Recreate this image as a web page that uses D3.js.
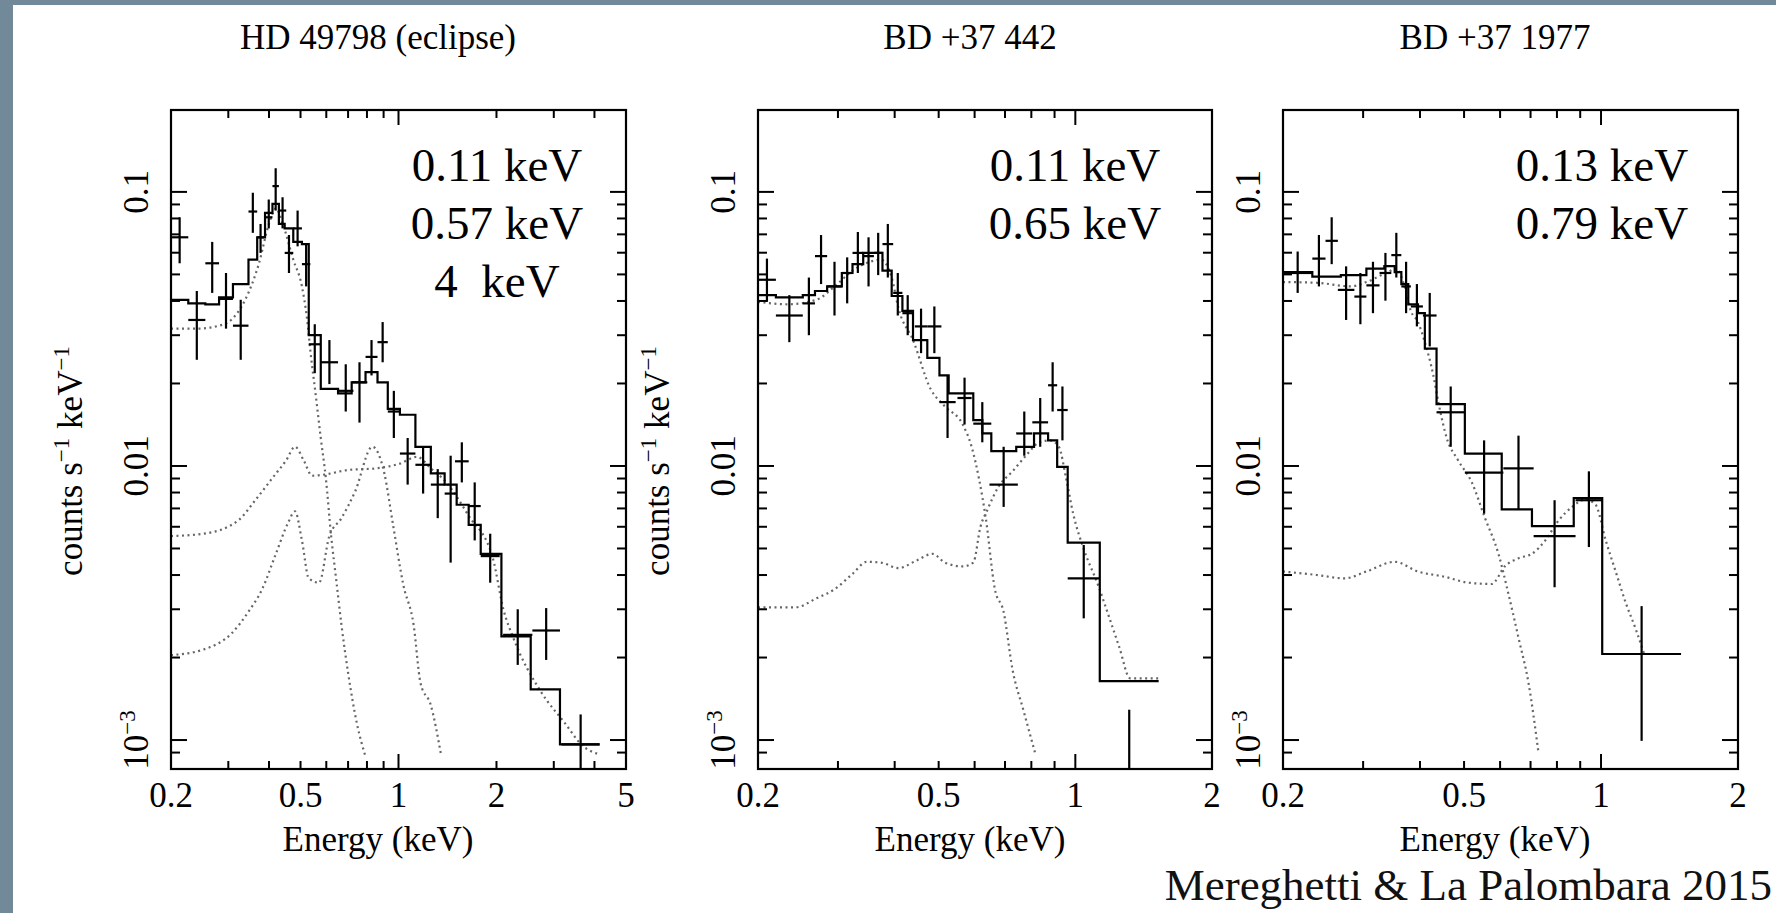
<!DOCTYPE html>
<html><head><meta charset="utf-8">
<script src="https://cdn.jsdelivr.net/npm/d3@7"></script>
<style>body{margin:0;background:#72899a;}svg{display:block}</style>
</head><body>
<svg id="c" width="1776" height="913"></svg>
<script>
// ---------------- DATA ----------------
const titles = ["HD 49798 (eclipse)", "BD +37 442", "BD +37 1977"];
const xAxisTitle = "Energy (keV)";
const credit = "Mereghetti & La Palombara 2015";
const p1Notes = ["0.11 keV", "0.57 keV", "4  keV"];
const p2Notes = ["0.11 keV", "0.65 keV"];
const p3Notes = ["0.13 keV", "0.79 keV"];
const p1XTickLabels = [0.2, 0.5, 1, 2, 5];
const p23XTickLabels = [0.2, 0.5, 1, 2];
const yTickLabels = [[0.1, "0.1"], [0.01, "0.01"], [0.001, "10", "\u22123"]];
const yDomain = [7.84e-4, 0.199];
const p1XDomain = [0.2, 5];
const p23XDomain = [0.2, 2];

// data bins: [E_lo, E_hi, rate, rate_lo, rate_hi]
const p1Bins = [
 [0.200,0.226,0.0683,0.0549,0.0808],[0.226,0.255,0.0341,0.0244,0.0435],
 [0.255,0.281,0.0549,0.0428,0.0657],[0.281,0.310,0.0407,0.0317,0.0506],
 [0.310,0.346,0.0325,0.0244,0.0404],[0.346,0.368,0.0848,0.0709,0.0993],
 [0.368,0.386,0.0683,0.0599,0.0764],[0.389,0.410,0.0808,0.0736,0.0938],
 [0.410,0.429,0.105,0.0855,0.122],[0.429,0.452,0.0855,0.0736,0.0956],
 [0.447,0.475,0.0599,0.0506,0.0696],[0.475,0.505,0.0736,0.0633,0.0855],
 [0.505,0.536,0.0545,0.0452,0.0645],[0.530,0.577,0.0278,0.0218,0.0329],
 [0.577,0.652,0.0239,0.0199,0.0288],[0.652,0.727,0.0188,0.0158,0.0235],
 [0.718,0.802,0.0202,0.0144,0.0239],[0.792,0.862,0.0250,0.0214,0.0288],
 [0.862,0.927,0.0283,0.0239,0.0335],[0.927,1.01,0.0158,0.01265,0.0188],
 [1.01,1.127,0.0111,0.00855,0.01265],[1.127,1.257,0.0101,0.00793,0.01175],
 [1.257,1.386,0.00855,0.00645,0.00974],[1.386,1.509,0.00793,0.00444,0.0109],
 [1.491,1.643,0.0104,0.00871,0.0122],[1.643,1.789,0.00714,0.00535,0.00871],
 [1.789,2.046,0.00469,0.00375,0.00566],[2.096,2.578,0.00242,0.00188,0.0030],
 [2.578,3.134,0.00251,0.00196,0.00303],[3.172,4.148,0.000964,0.000657,0.00124]
];
const p1StepEdges = [0.200,0.226,0.255,0.281,0.310,0.346,0.368,0.389,0.410,0.429,0.447,0.475,0.505,0.530,0.577,0.652,0.718,0.792,0.862,0.927,1.01,1.127,1.257,1.386,1.509,1.643,1.789,2.071,2.548,3.134,4.148];
const p1StepLevels = [0.0404,0.0392,0.0389,0.0412,0.0461,0.0566,0.0683,0.0839,0.0904,0.0764,0.0736,0.0657,0.0645,0.0300,0.0191,0.0184,0.0202,0.0220,0.0202,0.01615,0.01538,0.01175,0.00939,0.00855,0.00722,0.0061,0.00478,0.00239,0.00153,0.000964];
const p1CompA = [[0.200,0.0317],[0.240,0.0317],[0.281,0.0325],[0.306,0.0341],[0.338,0.0404],[0.372,0.0545],[0.400,0.0764],[0.420,0.0871],[0.441,0.0764],[0.475,0.0566],[0.505,0.0452],[0.523,0.0348],[0.539,0.0248],[0.556,0.0184],[0.577,0.01265],[0.598,0.00904],[0.621,0.00555],[0.644,0.00382],[0.668,0.00263],[0.701,0.00174],[0.745,0.00115],[0.792,0.00087]];
const p1CompB = [[0.200,0.00555],[0.252,0.00566],[0.322,0.00633],[0.363,0.0075],[0.410,0.00904],[0.452,0.0105],[0.481,0.01175],[0.511,0.0105],[0.543,0.00921],[0.591,0.0093],[0.701,0.00967],[0.852,0.0098],[1.01,0.0102],[1.14,0.0108],[1.257,0.0098],[1.386,0.00885],[1.643,0.00658],[1.949,0.00461],[2.1,0.0030],[2.256,0.00235],[2.74,0.0015],[3.25,0.00115],[3.67,0.000955],[4.1,0.00089]];
const p1CompC = [[0.200,0.00204],[0.252,0.00214],[0.306,0.00244],[0.346,0.00294],[0.381,0.00355],[0.420,0.00478],[0.458,0.00621],[0.481,0.00683],[0.505,0.00535],[0.530,0.00389],[0.570,0.00375],[0.613,0.00555],[0.668,0.00645],[0.736,0.00808],[0.831,0.01175],[0.905,0.00939],[0.962,0.0061],[1.035,0.00368],[1.113,0.00263],[1.169,0.00161],[1.257,0.00134],[1.352,0.00088]];

const p2Bins = [
 [0.200,0.219,0.0478,0.0397,0.0571],[0.219,0.251,0.0354,0.0283,0.042],
 [0.251,0.267,0.0392,0.0300,0.0487],[0.267,0.284,0.0583,0.0461,0.0696],
 [0.284,0.306,0.0452,0.0354,0.0556],[0.306,0.323,0.0506,0.0392,0.0577],
 [0.323,0.341,0.0599,0.0506,0.0714],[0.341,0.360,0.0583,0.0452,0.0683],
 [0.360,0.376,0.0599,0.0497,0.0709],[0.376,0.397,0.0645,0.0487,0.0764],
 [0.397,0.416,0.0428,0.0354,0.0506],[0.416,0.439,0.0361,0.0300,0.042],
 [0.443,0.472,0.0323,0.0258,0.0375],[0.472,0.507,0.0323,0.0258,0.0382],
 [0.502,0.545,0.0171,0.01265,0.0214],[0.550,0.591,0.0177,0.01416,0.021],
 [0.596,0.653,0.01427,0.0122,0.0171],[0.647,0.747,0.00855,0.00709,0.01175],
 [0.741,0.804,0.01314,0.0109,0.0158],[0.804,0.871,0.01443,0.01175,0.0177],
 [0.871,0.912,0.0197,0.0158,0.0239],[0.912,0.962,0.016,0.0124,0.0195],
 [0.962,1.132,0.00389,0.00278,0.00515],[1.132,1.526,0.0005,0.0002,0.00129]
];
const p2StepEdges = [0.200,0.219,0.251,0.267,0.284,0.306,0.323,0.341,0.376,0.394,0.416,0.439,0.472,0.502,0.526,0.596,0.624,0.653,0.741,0.811,0.871,0.912,0.962,1.132,1.526];
const p2StepLevels = [0.042,0.0412,0.042,0.0435,0.0452,0.0506,0.0545,0.0599,0.0516,0.0417,0.0368,0.0288,0.0248,0.0214,0.0184,0.0147,0.01314,0.01132,0.01175,0.01314,0.0124,0.00992,0.00525,0.00164];
const p2CompA = [[0.200,0.0397],[0.233,0.0389],[0.269,0.0404],[0.295,0.0452],[0.323,0.0516],[0.353,0.0556],[0.373,0.0566],[0.394,0.0487],[0.408,0.0375],[0.439,0.0288],[0.480,0.0191],[0.516,0.0165],[0.565,0.01416],[0.591,0.01175],[0.613,0.00904],[0.635,0.00645],[0.665,0.00355],[0.695,0.00294],[0.727,0.00181],[0.768,0.00129],[0.818,0.00088]];
const p2CompB = [[0.200,0.00305],[0.242,0.00305],[0.269,0.00329],[0.295,0.00355],[0.323,0.00404],[0.347,0.00447],[0.373,0.00444],[0.408,0.00424],[0.447,0.00452],[0.485,0.00478],[0.516,0.00444],[0.565,0.0043],[0.596,0.00444],[0.618,0.00599],[0.641,0.00695],[0.677,0.00839],[0.727,0.00956],[0.782,0.011],[0.833,0.0122],[0.879,0.0124],[0.920,0.01175],[0.954,0.00904],[0.989,0.0067],[1.044,0.00497],[1.122,0.00368],[1.185,0.00283],[1.25,0.00218],[1.32,0.00168],[1.526,0.00168]];

const p3Bins = [
 [0.200,0.232,0.0506,0.0428,0.0606],[0.232,0.248,0.0571,0.0452,0.0696],
 [0.248,0.264,0.0663,0.0545,0.0808],[0.264,0.287,0.0439,0.0341,0.0535],
 [0.287,0.305,0.0415,0.0329,0.0506],[0.305,0.326,0.0456,0.0361,0.0556],
 [0.326,0.346,0.0506,0.0401,0.0599],[0.346,0.364,0.0588,0.0487,0.0709],
 [0.364,0.382,0.0452,0.0361,0.0556],[0.382,0.406,0.0382,0.0323,0.0461],
 [0.406,0.435,0.0354,0.0273,0.0428],[0.435,0.502,0.0157,0.01175,0.0195],
 [0.502,0.610,0.00945,0.0067,0.0124],[0.610,0.711,0.0098,0.00695,0.0129],
 [0.711,0.879,0.00555,0.00361,0.0075],[0.879,1.006,0.0075,0.00506,0.00956],
 [1.006,1.499,0.00206,0.000993,0.00308]
];
const p3StepEdges = [0.200,0.232,0.268,0.305,0.334,0.352,0.364,0.377,0.396,0.410,0.435,0.502,0.605,0.705,0.871,1.006,1.499];
const p3StepLevels = [0.051,0.0491,0.0497,0.0525,0.0536,0.051,0.0461,0.0389,0.0361,0.0268,0.0168,0.0111,0.00695,0.00603,0.00764,0.00206];
const p3CompA = [[0.200,0.0469],[0.238,0.0466],[0.282,0.0452],[0.305,0.0469],[0.340,0.051],[0.355,0.0525],[0.370,0.0452],[0.382,0.0368],[0.396,0.0335],[0.410,0.0283],[0.428,0.0214],[0.439,0.0171],[0.458,0.01265],[0.485,0.0105],[0.520,0.00871],[0.556,0.00645],[0.595,0.00478],[0.626,0.00341],[0.659,0.00235],[0.693,0.00161],[0.729,0.000894]];
const p3CompB = [[0.200,0.00412],[0.238,0.0040],[0.273,0.00389],[0.305,0.00412],[0.352,0.00447],[0.396,0.00412],[0.454,0.00394],[0.511,0.00375],[0.575,0.00371],[0.615,0.00431],[0.659,0.00461],[0.705,0.00478],[0.754,0.00535],[0.807,0.00633],[0.864,0.00709],[0.925,0.00755],[0.973,0.00722],[1.024,0.00535],[1.077,0.00412],[1.133,0.00317],[1.193,0.00253],[1.244,0.00206]];

// ---------------- LAYOUT ----------------
const serif = "'Liberation Serif','Times New Roman',serif";
const frameTop = 110, frameBottom = 769;
const panels = [
  {x0:171, x1:626, xd:p1XDomain, bins:p1Bins, edges:p1StepEdges, levels:p1StepLevels,
   comps:[p1CompA,p1CompB,p1CompC], title:titles[0], cx:378, xt:p1XTickLabels, ylab:true,
   notes:p1Notes, noteX:497},
  {x0:758, x1:1212, xd:p23XDomain, bins:p2Bins, edges:p2StepEdges, levels:p2StepLevels,
   comps:[p2CompA,p2CompB], title:titles[1], cx:970, xt:p23XTickLabels, ylab:true,
   notes:p2Notes, noteX:1075},
  {x0:1283, x1:1738, xd:p23XDomain, bins:p3Bins, edges:p3StepEdges, levels:p3StepLevels,
   comps:[p3CompA,p3CompB], title:titles[2], cx:1495, xt:p23XTickLabels, ylab:false,
   notes:p3Notes, noteX:1602}
];

const svg = d3.select("#c");
svg.append("rect").attr("width",1776).attr("height",913).attr("fill","#72899a");
svg.append("rect").attr("x",13).attr("y",5).attr("width",1763).attr("height",908).attr("fill","#ffffff");
const defs = svg.append("defs");

const y = d3.scaleLog().domain(yDomain).range([frameBottom, frameTop]);

function yTickVals(){
  const out=[];
  for(let d=-4; d<=-1; d++) for(let m=1; m<=9; m++){
    const v = m*Math.pow(10,d);
    if(v > yDomain[0]*1.03 && v < yDomain[1]*0.99) out.push({v, major:m===1});
  }
  return out;
}
function xTickVals(dom){
  const out=[];
  for(let d=-1; d<=0; d++) for(let m=1; m<=9; m++){
    const v = m*Math.pow(10,d);
    if(v > dom[0]*1.01 && v < dom[1]*0.99) out.push({v, major:m===1});
  }
  return out;
}

panels.forEach((p,i) => {
  const x = d3.scaleLog().domain(p.xd).range([p.x0, p.x1]);
  const g = svg.append("g");
  const cid = "clip"+i;
  defs.append("clipPath").attr("id",cid).append("rect")
    .attr("x",p.x0).attr("y",frameTop).attr("width",p.x1-p.x0).attr("height",frameBottom-frameTop);
  const plot = g.append("g").attr("clip-path",`url(#${cid})`);

  // model components (dotted grey)
  const cl = d3.line().x(d=>x(d[0])).y(d=>y(d[1])).curve(d3.curveMonotoneX);
  p.comps.forEach(c => {
    plot.append("path").attr("d", cl(c)).attr("fill","none")
      .attr("stroke","#666").attr("stroke-width",2.2).attr("stroke-dasharray","2,3.5");
  });

  // model step
  const pts = p.edges.map((e,k)=>[e, p.levels[Math.min(k, p.levels.length-1)]]);
  const sl = d3.line().x(d=>x(d[0])).y(d=>y(d[1])).curve(d3.curveStepAfter);
  plot.append("path").attr("d", sl(pts)).attr("fill","none")
    .attr("stroke","#000").attr("stroke-width",2.2);

  // data crosses
  const cr = plot.append("g").attr("stroke","#000").attr("stroke-width",2.2);
  cr.selectAll("line.h").data(p.bins).join("line").attr("class","h")
    .attr("x1",d=>x(d[0])).attr("x2",d=>x(d[1])).attr("y1",d=>y(d[2])).attr("y2",d=>y(d[2]));
  cr.selectAll("line.v").data(p.bins).join("line").attr("class","v")
    .attr("x1",d=>x(Math.sqrt(d[0]*d[1]))).attr("x2",d=>x(Math.sqrt(d[0]*d[1])))
    .attr("y1",d=>y(d[3])).attr("y2",d=>y(d[4]));

  // frame
  g.append("rect").attr("x",p.x0).attr("y",frameTop).attr("width",p.x1-p.x0)
    .attr("height",frameBottom-frameTop).attr("fill","none").attr("stroke","#000").attr("stroke-width",2.2);

  // ticks
  const tk = g.append("g").attr("stroke","#000").attr("stroke-width",2);
  yTickVals().forEach(t => {
    const L = t.major ? 16 : 9, yy = y(t.v);
    tk.append("line").attr("x1",p.x0).attr("x2",p.x0+L).attr("y1",yy).attr("y2",yy);
    tk.append("line").attr("x1",p.x1).attr("x2",p.x1-L).attr("y1",yy).attr("y2",yy);
  });
  xTickVals(p.xd).forEach(t => {
    const L = t.major ? 15 : 8, xx = x(t.v);
    tk.append("line").attr("x1",xx).attr("x2",xx).attr("y1",frameBottom).attr("y2",frameBottom-L);
    tk.append("line").attr("x1",xx).attr("x2",xx).attr("y1",frameTop).attr("y2",frameTop+L);
  });

  // x tick labels
  g.selectAll("text.xt").data(p.xt).join("text").attr("class","xt")
    .attr("x",d=>x(d)).attr("y",807).attr("text-anchor","middle")
    .attr("font-family",serif).attr("font-size",35).attr("fill","#000").text(d=>String(d));

  // y tick labels (rotated)
  yTickLabels.forEach(t => {
    const tx = g.append("text").attr("transform",`translate(${p.x0-23},${y(t[0])}) rotate(-90)`)
      .attr("text-anchor","middle").attr("font-family",serif).attr("font-size",35).attr("fill","#000");
    tx.append("tspan").text(t[1]);
    if(t[2]) tx.append("tspan").attr("font-size",23).attr("dy",-13).text(t[2]);
  });

  // y axis label
  if(p.ylab){
    const yl = g.append("text").attr("transform",`translate(${p.x0-89},461) rotate(-90)`)
      .attr("text-anchor","middle").attr("font-family",serif).attr("font-size",35).attr("fill","#000");
    yl.append("tspan").text("counts s");
    yl.append("tspan").attr("font-size",23).attr("dy",-13).text("\u22121");
    yl.append("tspan").attr("dy",13).text(" keV");
    yl.append("tspan").attr("font-size",23).attr("dy",-13).text("\u22121");
  }

  // titles and axis titles
  g.append("text").attr("x",p.cx).attr("y",49).attr("text-anchor","middle")
    .attr("font-family",serif).attr("font-size",35).attr("fill","#000").text(p.title);
  g.append("text").attr("x",p.cx).attr("y",851).attr("text-anchor","middle")
    .attr("font-family",serif).attr("font-size",35).attr("fill","#000").text(xAxisTitle);

  // temperature notes
  g.selectAll("text.note").data(p.notes).join("text").attr("class","note")
    .attr("x",p.noteX).attr("y",(d,k)=>181+k*58).attr("text-anchor","middle")
    .attr("font-family",serif).attr("font-size",47).attr("fill","#000")
    .style("white-space","pre").text(d=>d);
});

svg.append("text").attr("x",1772).attr("y",900).attr("text-anchor","end")
  .attr("font-family",serif).attr("font-size",45).attr("fill","#111").text(credit);
</script>
</body></html>
